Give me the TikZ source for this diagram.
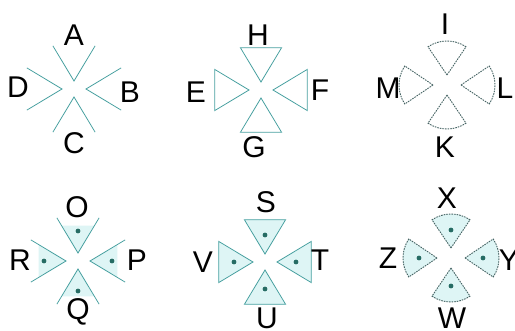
\documentclass[tikz,border=0pt]{standalone}
\usepackage{fontspec}
\setmainfont{Liberation Sans}

\definecolor{tealline}{RGB}{72,160,160}
\definecolor{dashline}{RGB}{70,100,100}
\definecolor{paleteal}{RGB}{222,245,245}
\definecolor{spotteal}{RGB}{38,108,100}

\begin{document}
\begin{tikzpicture}[
        x=1pt, y=-1pt,
        lbl/.style={font=\fontsize{30}{30}\selectfont, inner sep=0pt},
        arm/.style={draw=tealline, line width=0.8pt},
        tri/.style={draw=tealline, line width=0.8pt, line join=miter},
        sector/.style={draw=dashline, line width=0.9pt, dash pattern=on 1.6pt off 1pt},
        shade/.style={fill=paleteal},
        spot/.style={fill=spotteal},
    ]
    \useasboundingbox (0,0) rectangle (515,331);

    % Group centres - top row, bottom row
    \coordinate (c1) at (74,89);
    \coordinate (c2) at (261,90);
    \coordinate (c3) at (447,85);
    \coordinate (c4) at (78,261);
    \coordinate (c5) at (265,262);
    \coordinate (c6) at (451,258);

    % Open V shapes
    \foreach \a/\o in {0/12,90/8,180/12,270/8} {
        \path (c1) ++(\a:\o) coordinate (p);
        \draw[arm] ([shift={(\a+31:41)}]p) -- (p) -- ([shift={(\a-31:41)}]p);
        \path (c4) ++(\a:\o) coordinate (q);
        \fill[shade] (q) -- ([shift={(\a+31:32)}]q) -- ([shift={(\a-31:32)}]q) -- cycle;
        \draw[arm] ([shift={(\a+31:41)}]q) -- (q) -- ([shift={(\a-31:41)}]q);
        \fill[spot] ([shift={(\a:22)}]q) circle[radius=2.4pt];
    }

    % Closed triangles
    \foreach \a/\o in {0/12,90/8,180/12,270/8} {
        \path (c2) ++(\a:\o) coordinate (p);
        \draw[tri] (p) -- ([shift={(\a+31:40)}]p) -- ([shift={(\a-31:40)}]p) -- cycle;
        \path (c5) ++(\a:\o) coordinate (q);
        \draw[tri, shade] (q) -- ([shift={(\a+31:40)}]q) -- ([shift={(\a-31:40)}]q) -- cycle;
        \fill[spot] ([shift={(\a:19)}]q) circle[radius=2.4pt];
    }

    % Dashed sectors
    \foreach \a/\o in {0/14,90/10,180/14,270/10} {
        \path (c3) ++(\a:\o) coordinate (p);
        \draw[sector] (p) -- ([shift={(\a-34:34)}]p)
            arc[start angle=\a-34, end angle=\a+34, radius=34] -- cycle;
        \path (c6) ++(\a:\o) coordinate (q);
        \draw[sector, shade] (q) -- ([shift={(\a-34:34)}]q)
            arc[start angle=\a-34, end angle=\a+34, radius=34] -- cycle;
        \fill[spot] ([shift={(\a:18)}]q) circle[radius=2.4pt];
    }

    % Labels
    \node[lbl] (A) at (74,35)  {A};
    \node[lbl] (B) at (130,92) {B};
    \node[lbl] (C) at (74,143) {C};
    \node[lbl] (D) at (18,87)  {D};

    \node[lbl] (H) at (258,35)  {H};
    \node[lbl] (F) at (320,90)  {F};
    \node[lbl] (G) at (254,147) {G};
    \node[lbl] (E) at (196,92)  {E};

    \node[lbl] (I) at (445,24)  {I};
    \node[lbl] (L) at (505,88)  {L};
    \node[lbl] (K) at (445,147) {K};
    \node[lbl] (M) at (388,88)  {M};

    \node[lbl] (O) at (77,207)  {O};
    \node[lbl] (P) at (137,260) {P};
    \node[lbl] (Q) at (78,312)  {Q};
    \node[lbl] (R) at (20,260)  {R};

    \node[lbl] (S) at (266,202) {S};
    \node[lbl] (T) at (320,260) {T};
    \node[lbl] (U) at (267,318) {U};
    \node[lbl] (V) at (203,262) {V};

    \node[lbl] (X) at (447,198) {X};
    \node[lbl] (Y) at (509,260) {Y};
    \node[lbl] (W) at (452,318) {W};
    \node[lbl] (Z) at (388,258) {Z};

\end{tikzpicture}
\end{document}
